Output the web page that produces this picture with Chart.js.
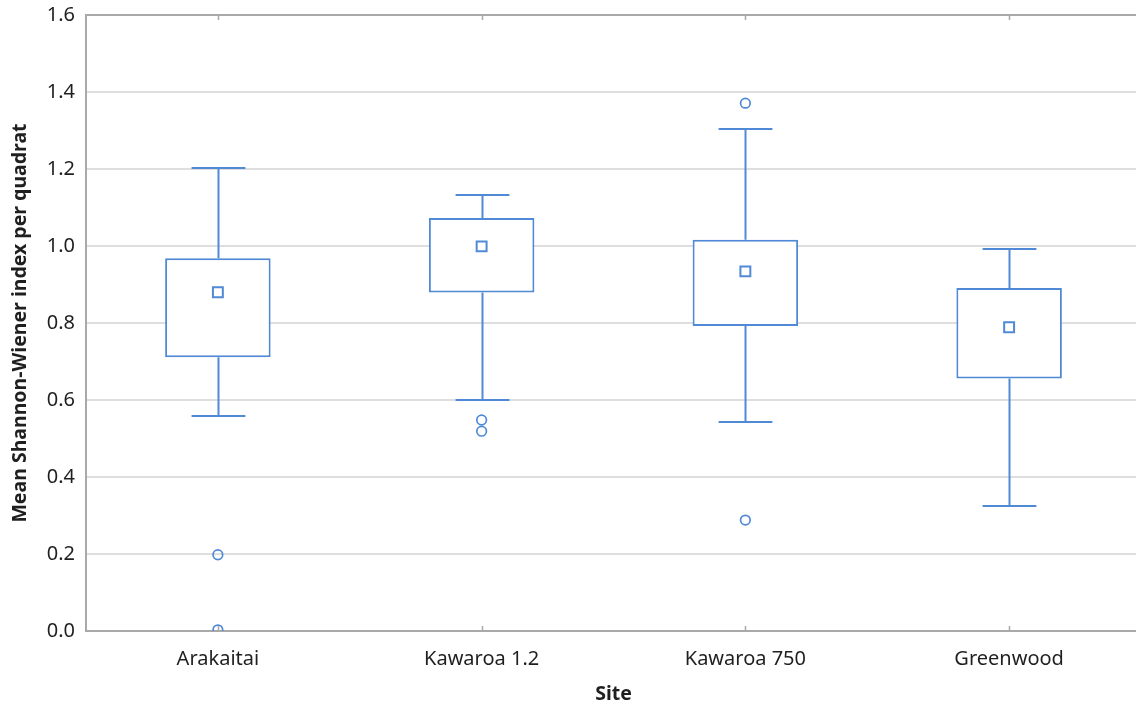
<!DOCTYPE html>
<html>
<head>
<meta charset="utf-8">
<title>Mean Shannon-Wiener index per quadrat by site</title>
<script src="https://cdn.jsdelivr.net/npm/chart.js@4.4.1/dist/chart.umd.min.js"></script>
<style>
  html, body { margin: 0; padding: 0; background: #ffffff; overflow: hidden; }
  canvas { display: block; }
</style>
</head>
<body>
<canvas id="chart" width="1150" height="706"></canvas>
<script>
// Sites sampled
const categories = ['Arakaitai', 'Kawaroa 1.2', 'Kawaroa 750', 'Greenwood'];

// Box-plot summary per site
const q1Values = [0.711, 0.879, 0.792, 0.656];
const q3Values = [0.968, 1.073, 1.016, 0.891];
const whiskerLow = [0.559, 0.600, 0.544, 0.325];
const whiskerHigh = [1.203, 1.133, 1.304, 0.992];
const meanValues = [0.880, 0.999, 0.934, 0.789];

// Outlying quadrats per site
const outliersArakaitai = [0.198, 0.003];
const outliersKawaroa12 = [0.548, 0.519];
const outliersKawaroa750 = [1.371, 0.288];
const outliersGreenwood = [];

// Y axis ticks
const yTicks = [0.0, 0.2, 0.4, 0.6, 0.8, 1.0, 1.2, 1.4, 1.6];

const BLUE = '#5089d6';
const AXIS = '#a9a9a9';
const GRID = '#dedede';
const TEXT = '#1f1f1f';
const FONT = "'Noto Sans', 'Open Sans', sans-serif";

const outlierGroups = [outliersArakaitai, outliersKawaroa12, outliersKawaroa750, outliersGreenwood];
const outlierPoints = [];
outlierGroups.forEach((vals, i) => vals.forEach(v => outlierPoints.push({ x: categories[i], y: v })));

// Whiskers and caps, drawn beneath the boxes
const whiskerPlugin = {
  id: 'whiskers',
  beforeDatasetsDraw(chart) {
    const { ctx, scales: { x, y } } = chart;
    const band = x.getPixelForValue(1) - x.getPixelForValue(0);
    const capHalf = band * 0.102;
    ctx.save();
    ctx.strokeStyle = BLUE;
    ctx.lineWidth = 2;
    categories.forEach((c, i) => {
      const cx = Math.round(x.getPixelForValue(i)) + 0.5;
      const segs = [[whiskerLow[i], q1Values[i]], [q3Values[i], whiskerHigh[i]]];
      ctx.beginPath();
      segs.forEach(([a, b]) => {
        ctx.moveTo(cx, y.getPixelForValue(a));
        ctx.lineTo(cx, y.getPixelForValue(b));
      });
      [whiskerLow[i], whiskerHigh[i]].forEach(v => {
        const py = Math.round(y.getPixelForValue(v));
        ctx.moveTo(cx - capHalf, py);
        ctx.lineTo(cx + capHalf, py);
      });
      ctx.stroke();
    });
    ctx.restore();
  }
};

// Top frame line and inward tick marks at each site
const framePlugin = {
  id: 'frame',
  afterDraw(chart) {
    const { ctx, chartArea: a, scales: { x } } = chart;
    ctx.save();
    ctx.strokeStyle = AXIS;
    ctx.lineWidth = 2;
    ctx.beginPath();
    ctx.moveTo(a.left, a.top);
    ctx.lineTo(a.right, a.top);
    ctx.stroke();
    ctx.lineWidth = 1.5;
    ctx.beginPath();
    categories.forEach((c, i) => {
      const px = Math.round(x.getPixelForValue(i)) + 0.5;
      ctx.moveTo(px, a.top);
      ctx.lineTo(px, a.top + 5);
      ctx.moveTo(px, a.bottom);
      ctx.lineTo(px, a.bottom - 5);
    });
    ctx.stroke();
    ctx.restore();
  }
};

new Chart(document.getElementById('chart'), {
  type: 'bar',
  data: {
    labels: categories,
    datasets: [
      {
        type: 'bar',
        label: 'Interquartile range',
        data: categories.map((c, i) => [q1Values[i], q3Values[i]]),
        backgroundColor: '#ffffff',
        borderColor: BLUE,
        borderWidth: 2,
        borderSkipped: false,
        categoryPercentage: 1.0,
        barPercentage: 0.4,
        order: 2
      },
      {
        type: 'line',
        label: 'Mean',
        data: categories.map((c, i) => ({ x: c, y: meanValues[i] })),
        showLine: false,
        pointStyle: 'rect',
        pointRadius: 7,
        pointBorderWidth: 2,
        pointBorderColor: BLUE,
        pointBackgroundColor: 'rgba(0,0,0,0)',
        order: 1
      },
      {
        type: 'line',
        label: 'Outliers',
        data: outlierPoints,
        showLine: false,
        pointStyle: 'circle',
        pointRadius: 4.8,
        pointBorderWidth: 1.7,
        pointBorderColor: BLUE,
        pointBackgroundColor: 'rgba(0,0,0,0)',
        clip: { left: false, top: false, right: false, bottom: 0 },
        order: 0
      }
    ]
  },
  options: {
    responsive: false,
    animation: false,
    events: [],
    layout: { padding: { top: 15, right: 3, left: 0, bottom: 0 } },
    plugins: {
      legend: { display: false },
      tooltip: { enabled: false }
    },
    scales: {
      x: {
        type: 'category',
        offset: true,
        grid: { display: true, drawOnChartArea: false, drawTicks: false, offset: false },
        border: { display: true, color: AXIS, width: 2 },
        ticks: {
          color: TEXT,
          font: { family: FONT, size: 20 },
          padding: 16,
          maxRotation: 0
        },
        title: {
          display: true,
          text: 'Site',
          color: TEXT,
          font: { family: FONT, size: 19.5, weight: 'bold' },
          padding: { top: 0, bottom: 0 }
        },
        afterFit(scale) {
          scale.height = 75;
          scale.paddingLeft = 0;
          scale.paddingRight = 0;
        }
      },
      y: {
        min: 0,
        max: 1.6,
        afterBuildTicks(scale) { scale.ticks = yTicks.map(v => ({ value: v })); },
        grid: { color: GRID, lineWidth: 2, drawTicks: false },
        border: { display: true, color: AXIS, width: 2 },
        ticks: {
          color: TEXT,
          font: { family: FONT, size: 20 },
          padding: 11,
          callback: v => Number(v).toFixed(1)
        },
        title: {
          display: true,
          text: 'Mean Shannon-Wiener index per quadrat',
          color: TEXT,
          font: { family: FONT, size: 19.5, weight: 'bold' },
          padding: { top: 9, bottom: 0 }
        },
        afterFit(scale) {
          scale.width = 86;
          scale.paddingTop = 0;
          scale.paddingBottom = 0;
        }
      }
    }
  },
  plugins: [whiskerPlugin, framePlugin]
});
</script>
</body>
</html>
